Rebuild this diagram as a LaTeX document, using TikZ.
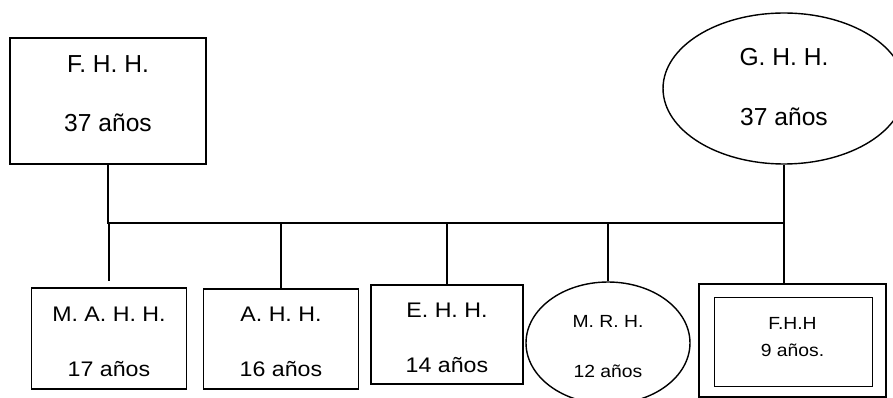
\documentclass[tikz,border=0pt]{standalone}
\usepackage{fontspec}
\setmainfont{Liberation Sans}
\newfontfamily\anchaf{Liberation Sans}[FakeStretch=1.1]
\usetikzlibrary{shapes.geometric}

\tikzset{
  caja/.style={rectangle,draw=black,line width=.8pt,inner sep=0pt,align=center,text depth=0pt,font=\anchaf\fontsize{12}{14.4}\selectfont},
  ovalo/.style={ellipse,draw=black,line width=.8pt,inner sep=0pt,align=center,text depth=0pt},
  grande/.style={font=\fontsize{14}{16.8}\selectfont},
  chico/.style={font=\anchaf\fontsize{10}{12}\selectfont},
  linea/.style={line width=.8pt},
}

\begin{document}
\begin{tikzpicture}[x=0.02cm,y=-0.02cm]
	\useasboundingbox (0,0) rectangle (893,398);

	  % parents
	\node[caja,grande,minimum width=3.92cm,minimum height=2.52cm,text height=1.24cm] (padre) at (108,101) {F. H. H.\\[17.2pt]37 años};
	\node[ovalo,grande,minimum width=4.84cm,minimum height=3.02cm,text height=1.5cm] (madre) at (784,88.5) {G. H. H.\\[17.8pt]37 años};

	  % children
	\node[caja,minimum width=3.1cm,minimum height=2.02cm,text height=1.54cm] (mahh) at (109,338.5) {M. A. H. H.\\[17.3pt]17 años};
	\node[caja,minimum width=3.1cm,minimum height=2cm,text height=1.52cm] (ahh) at (281,339) {A. H. H.\\[17.3pt]16 años};
	\node[caja,minimum width=3.04cm,minimum height=1.98cm,text height=1.54cm] (ehh) at (447,334.5) {E. H. H.\\[17.3pt]14 años};
	\node[ovalo,chico,minimum width=3.28cm,minimum height=2.44cm,text height=1.4cm] (mrh) at (608,343) {M. R. H.\\[16.9pt]12 años};
	\node[caja,chico,minimum width=3.74cm,minimum height=2.26cm,text height=.66cm] (fhh) at (792.5,340.5) {F.H.H\\[3.9pt]9 años.};
	\draw[linea] ([shift={(16,14)}]fhh.north west) rectangle ([shift={(-14,-11)}]fhh.south east);

	% parents to the bus
	\coordinate (bus) at (0,223);
	\draw[linea] (padre.south) -- (padre.south |- bus) -- (madre.south |- bus) -- (madre.south);

	% bus to children
	\draw[linea,shorten >=.12cm] (bus -| mahh.north) -- (mahh.north);
	\foreach \h in {ahh,ehh,mrh}
	  \draw[linea] (bus -| \h.north) -- (\h.north);
	\draw[linea] (madre.south |- bus) -- (madre.south |- fhh.north);
\end{tikzpicture}
\end{document}
